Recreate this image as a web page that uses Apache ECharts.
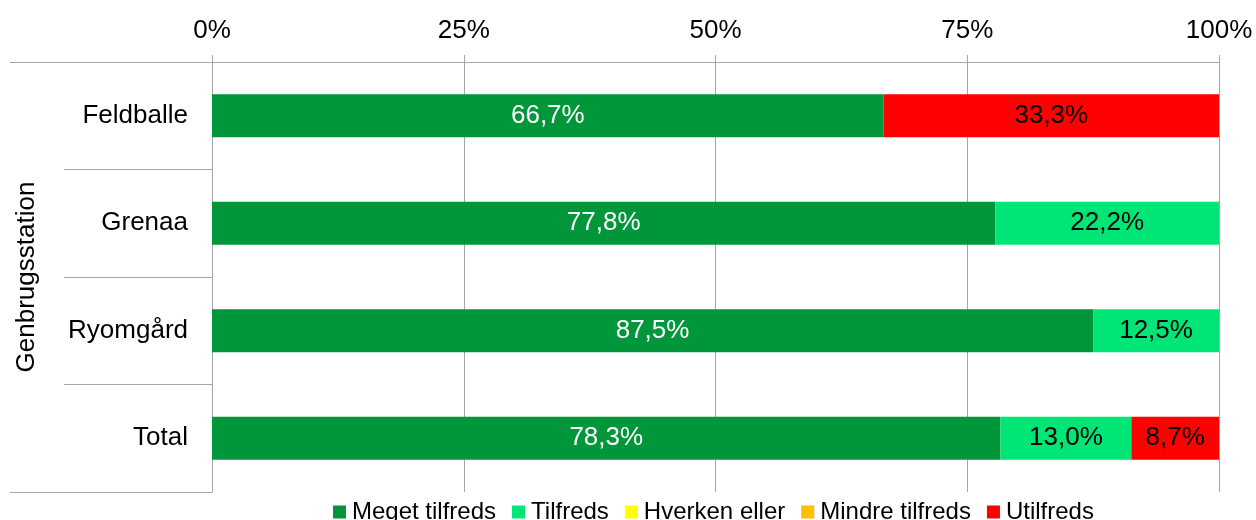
<!DOCTYPE html>
<html><head><meta charset="utf-8">
<script src="https://cdn.jsdelivr.net/npm/echarts@6/dist/echarts.min.js"></script>
<style>html,body{margin:0;padding:0;background:#fff}#c{width:1256px;height:520px}</style>
</head><body><div id="c"></div>
<script>
const categories = ['Feldballe', 'Grenaa', 'Ryomgård', 'Total'];
const seriesNames = ['Meget tilfreds', 'Tilfreds', 'Hverken eller', 'Mindre tilfreds', 'Utilfreds'];
const megetTilfreds = [66.7, 77.8, 87.5, 78.3];
const tilfreds = [0, 22.2, 12.5, 13.0];
const hverkenEller = [0, 0, 0, 0];
const mindreTilfreds = [0, 0, 0, 0];
const utilfreds = [33.3, 0, 0, 8.7];
const xTicks = [0, 25, 50, 75, 100];
const colors = ['#009639', '#00E676', '#FFFF00', '#FFC000', '#FF0000'];
const labelColors = ['#ffffff', '#000000', '#000000', '#000000', '#000000'];
const values = [megetTilfreds, tilfreds, hverkenEller, mindreTilfreds, utilfreds];
const font = 'Liberation Sans, Arial, sans-serif';

const chart = echarts.init(document.getElementById('c'));
chart.setOption({
  animation: false,
  textStyle: { fontFamily: font },
  grid: { left: 212, right: 37, top: 62, bottom: 28, containLabel: false },
  legend: {
    top: 495, left: 328,
    itemWidth: 13, itemHeight: 13, itemGap: 16,
    icon: 'rect',
    textStyle: { fontSize: 24, color: '#000', fontFamily: font, padding: [0, 0, 0, 1] },
    data: seriesNames
  },
  xAxis: {
    type: 'value', position: 'top',
    min: xTicks[0], max: xTicks[xTicks.length - 1], interval: 25,
    axisLine: { show: true, lineStyle: { color: '#a6a6a6', width: 1 } },
    axisTick: { show: true, length: 7, lineStyle: { color: '#a6a6a6' } },
    splitLine: { show: true, lineStyle: { color: '#a6a6a6', width: 1 } },
    axisLabel: { formatter: '{value}%', fontSize: 26, color: '#000', margin: 18, fontFamily: font }
  },
  yAxis: [{
    type: 'category', inverse: true, data: categories,
    name: 'Genbrugsstation', nameLocation: 'middle', nameGap: 172, nameRotate: 90,
    nameTextStyle: { fontSize: 26, color: '#000', fontFamily: font },
    axisLine: { show: true, lineStyle: { color: '#a6a6a6' } },
    axisTick: { show: true, length: 148, lineStyle: { color: '#a6a6a6' } },
    axisLabel: { fontSize: 26, color: '#000', margin: 24, fontFamily: font }
  }, {
    type: 'category', position: 'left', data: [''],
    axisLine: { show: false },
    axisTick: { show: true, length: 202, lineStyle: { color: '#a6a6a6' } },
    axisLabel: { show: false }
  }],
  series: seriesNames.map((n, i) => ({
    name: n, type: 'bar', stack: 'total', barWidth: '40%',
    itemStyle: { color: colors[i] },
    label: {
      show: true, position: 'inside', fontSize: 26, color: labelColors[i], fontFamily: font,
      formatter: p => p.value > 0 ? p.value.toFixed(1).replace('.', ',') + '%' : ''
    },
    data: values[i]
  }))
});
</script></body></html>
